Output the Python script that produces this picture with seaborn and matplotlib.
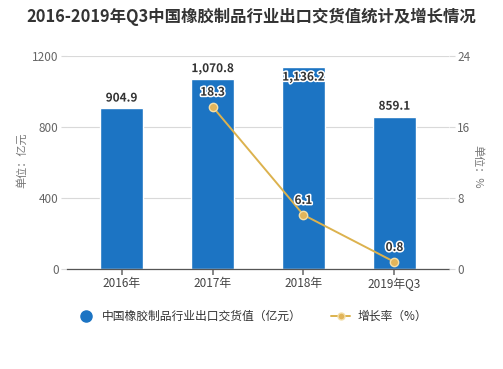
import numpy as np
import pandas as pd
import matplotlib.pyplot as plt
import matplotlib.patheffects as pe
from matplotlib.lines import Line2D
import seaborn as sns

# data
years = ["2016年", "2017年", "2018年", "2019年Q3"]
export_value = [904.9, 1070.8, 1136.2, 859.1]   # 亿元
growth_rate = [None, 18.3, 6.1, 0.8]             # %

bar_color = "#1c74c3"
line_color = "#dcb24e"

sns.set_theme(style="white")
plt.rcParams["font.family"] = ["Noto Sans CJK SC", "DejaVu Sans"]
plt.rcParams["axes.unicode_minus"] = False

df = pd.DataFrame({"year": years, "value": export_value})

fig = plt.figure(figsize=(5.03, 3.69), dpi=100)
ax = fig.add_axes([0.1332, 0.271, 0.7594, 0.577])

sns.barplot(data=df, x="year", y="value", color=bar_color, width=0.47,
            saturation=1, ax=ax)
ax.set_xlim(-0.6, len(years) - 0.4)
ax.set_ylim(0, 1200)
ax.set_yticks([0, 400, 800, 1200])
ax.yaxis.grid(True, color="#d9d9d9", linewidth=0.8)
ax.set_axisbelow(True)
for s in ["top", "right", "left"]:
    ax.spines[s].set_visible(False)
ax.spines["bottom"].set_color("#555555")
ax.spines["bottom"].set_linewidth(0.9)
ax.tick_params(axis="x", bottom=True, length=4, color="#777777",
               labelsize=8.5, labelcolor="#444444", pad=2)
ax.tick_params(axis="y", left=True, length=4, width=0.8, color="#d9d9d9",
               labelsize=8.5, labelcolor="#666666", pad=2)
ax.set_xlabel("")
ax.set_ylabel("单位：亿元", fontsize=8, color="#777777")
ax.yaxis.set_label_coords(-0.105, 0.51)

halo = [pe.withStroke(linewidth=2.2, foreground="white")]
for i, v in enumerate(export_value):
    if v > 1100:
        ax.text(i, v - 18, f"{v:,.1f}", ha="center", va="top", fontsize=8.5,
                fontweight="bold", color="#333333", path_effects=halo)
    else:
        ax.text(i, v + 22, f"{v:,.1f}", ha="center", va="bottom", fontsize=8.5,
                fontweight="bold", color="#333333", path_effects=halo)

# growth rate on the right axis
ax2 = ax.twinx()
pos = [i for i, g in enumerate(growth_rate) if g is not None]
rates = [g for g in growth_rate if g is not None]
sns.lineplot(x=pos, y=rates, ax=ax2, color=line_color, linewidth=1.4,
             marker="o", markersize=6, markerfacecolor="#e2b55a",
             markeredgecolor="#f4dfa8", markeredgewidth=1)
ax2.set_ylim(0, 24)
ax2.set_yticks([0, 8, 16, 24])
for s in ["top", "right", "left", "bottom"]:
    ax2.spines[s].set_visible(False)
ax2.tick_params(axis="y", left=False, right=True, length=4, width=0.8,
                color="#d9d9d9", labelsize=8.5, labelcolor="#666666", pad=2)
ax2.set_ylabel("单位：%", fontsize=8, color="#777777", rotation=270)
ax2.yaxis.set_label_coords(1.089, 0.48)
for x, g in zip(pos, rates):
    ax2.text(x, g + 0.9, f"{g:.1f}", ha="center", va="bottom", fontsize=8.5,
             fontweight="bold", color="#333333", path_effects=halo)

fig.text(0.5, 0.953, "2016-2019年Q3中国橡胶制品行业出口交货值统计及增长情况",
         ha="center", va="center", fontsize=11.8, fontweight="bold",
         color="#333333")

handles = [
    Line2D([], [], linestyle="none", marker="o", markersize=8,
           markerfacecolor=bar_color, markeredgecolor=bar_color),
    Line2D([], [], color=line_color, linewidth=1.4, marker="o", markersize=5,
           markerfacecolor="#e2b55a", markeredgecolor="#f4dfa8"),
]
fig.legend(handles, ["中国橡胶制品行业出口交货值（亿元）", "增长率（%）"],
           loc="center", bbox_to_anchor=(0.5, 0.143), ncol=2, frameon=False,
           fontsize=8.5, handlelength=1.6, handletextpad=0.6,
           columnspacing=2.5, labelcolor="#333333")

fig.savefig("out.png", dpi=100)
